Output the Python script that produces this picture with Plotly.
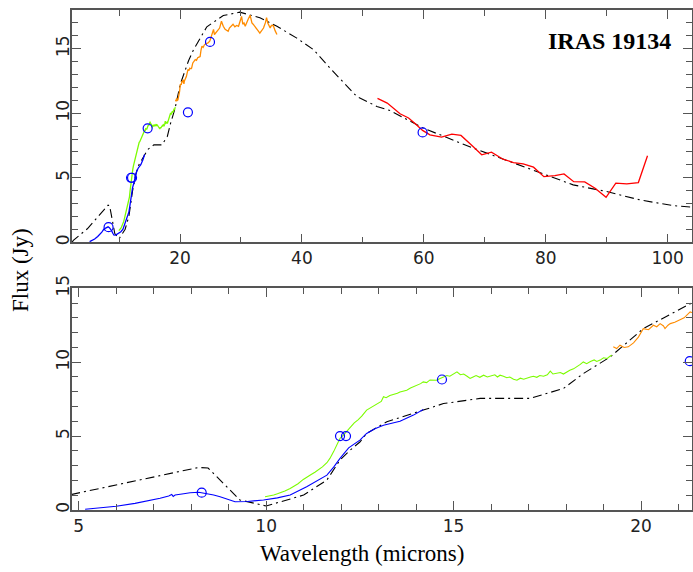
import plotly.graph_objects as go
from plotly.subplots import make_subplots

# ---------------- data ----------------
model_x = [2.3, 2.5, 4.8, 6.5, 8.2, 8.45, 9.3, 10.0, 11.0, 11.62, 11.97, 12.24, 12.5, 12.68,
           13.22, 14.19, 14.73, 15.71, 17.04, 17.93, 18.46, 19.18, 20.06, 21.4, 22.2, 24.4,
           27.1, 29.8, 33.1, 35.9, 39.1, 41.9, 45.0, 49.0, 52.3, 54.5, 59.9, 68.1, 76.3,
           84.5, 90.0, 95.5, 100.9, 104.0]
model_y = [0.0, 0.15, 1.05, 1.95, 2.88, 2.84, 0.68, 0.27, 1.01, 2.03, 3.38, 4.05, 4.6, 5.18,
           5.97, 6.76, 7.2, 7.55, 7.55, 8.22, 9.23, 10.36, 12.27, 14.07, 14.9, 16.7,
           17.57, 17.83, 17.4, 16.74, 15.84, 14.93, 13.3, 11.3, 10.53, 10.2, 8.85, 7.3, 5.87,
           4.45, 3.93, 3.28, 2.84, 2.72]

blue_x = [5.17, 5.5, 6.0, 6.5, 7.0, 7.17, 7.4, 7.48, 7.52, 7.57, 7.8, 7.97, 8.2, 8.41, 8.6,
          8.77, 9.0, 9.17, 9.5, 9.93, 10.3, 10.64, 11.08, 11.3, 11.62, 11.8, 11.97, 12.2,
          12.5, 12.68, 12.9, 13.13, 13.35, 13.57, 13.93, 14.19]
blue_y = [0.05, 0.12, 0.25, 0.45, 0.68, 0.79, 0.95, 1.05, 0.92, 1.01, 1.10, 1.17, 1.20, 1.13, 1.02,
          0.90, 0.68, 0.56, 0.58, 0.68, 0.82, 1.01, 1.58, 1.90, 2.36, 2.90, 3.49, 4.20,
          4.73, 5.18, 5.50, 5.74, 5.90, 6.01, 6.42, 6.80]

green_x = [9.97, 10.1, 10.2, 10.3, 10.4, 10.5, 10.64, 10.75, 10.85, 10.99, 11.1, 11.2, 11.3,
           11.4, 11.5, 11.62, 11.7, 11.8, 11.9, 11.97, 12.06, 12.15, 12.25, 12.35, 12.45,
           12.55, 12.68, 12.8, 12.9, 13.0, 13.07, 13.13, 13.2, 13.3, 13.4, 13.5, 13.57,
           13.65, 13.75, 13.85, 13.95, 14.05, 14.12, 14.19, 14.28, 14.37, 14.46, 14.55,
           14.64, 14.73, 14.82, 14.9, 15.0, 15.09, 15.18, 15.27, 15.36, 15.44, 15.52, 15.6,
           15.7, 15.8, 15.9, 16.0, 16.1, 16.17, 16.24, 16.33, 16.42, 16.5, 16.6, 16.69,
           16.78, 16.87, 16.96, 17.05, 17.13, 17.22, 17.3, 17.4, 17.5, 17.58, 17.65, 17.75,
           17.85, 17.93, 18.02, 18.1, 18.2, 18.3, 18.38, 18.46, 18.55, 18.65, 18.75, 18.82,
           18.91, 19.0, 19.1, 19.17, 19.22]
green_y = [0.90, 0.95, 1.02, 1.10, 1.18, 1.28, 1.46, 1.60, 1.78, 2.07, 2.22, 2.40, 2.55,
           2.72, 2.92, 3.20, 3.49, 3.95, 4.45, 4.85, 5.07, 5.35, 5.65, 5.90, 6.10,
           6.35, 6.76, 6.95, 7.10, 7.25, 7.35, 7.66, 7.60, 7.75, 7.80, 7.90, 7.99,
           8.05, 8.10, 8.25, 8.35, 8.45, 8.55, 8.67, 8.62, 8.80, 8.78, 8.78,
           8.90, 9.00, 9.10, 9.05, 9.20, 9.35, 9.15, 9.20, 9.05, 8.90, 9.00, 9.10,
           8.98, 9.12, 9.00, 9.05, 9.15, 9.00, 9.12, 9.05, 8.95, 9.00, 8.85, 8.78,
           8.92, 8.85, 8.95, 9.00, 9.05, 8.98, 9.10, 9.05, 9.15, 9.40, 9.20, 9.25,
           9.30, 9.20, 9.35, 9.45, 9.55, 9.70, 9.85, 10.02, 9.90, 10.05, 10.15, 10.05,
           10.14, 10.30, 10.25, 10.40, 10.47]

orange_x = [19.26, 19.35, 19.44, 19.55, 19.66, 19.8, 19.93, 20.06, 20.2, 20.33, 20.42, 20.51,
            20.6, 20.64, 20.72, 20.78, 20.9, 21.04, 21.15, 21.31, 21.45, 21.6, 21.8, 21.9,
            22.1, 22.3, 22.5, 22.7, 22.9, 23.1, 23.3, 23.45, 23.6, 23.8, 24.0, 24.3, 24.6,
            24.9, 25.2, 25.4, 25.5, 25.65, 25.8, 26.0, 26.2, 26.5, 26.8, 26.95, 27.1, 27.4,
            27.7, 27.9, 28.1, 28.4, 28.7, 29.0, 29.3, 29.6, 29.85, 30.1, 30.3, 30.5, 30.7,
            30.9, 31.2, 31.5, 31.8, 32.0, 32.3, 32.6, 32.8, 33.1, 33.4, 33.7, 34.0, 34.2,
            34.4, 34.6, 34.8, 35.0, 35.3, 35.6, 35.9]
orange_y = [11.04, 10.92, 11.15, 11.00, 11.04, 11.31, 11.70, 12.27, 12.20, 12.50, 12.40, 12.61,
            12.45, 12.27, 12.50, 12.61, 12.70, 12.84, 13.00, 13.40, 13.30, 13.50, 13.45, 13.50,
            13.90, 14.00, 14.15, 14.10, 14.30, 14.35, 14.40, 14.90, 15.20, 15.10, 15.30, 15.40, 15.45,
            15.60, 15.97, 16.30, 16.50, 16.10, 16.20, 16.30, 16.50, 16.60, 17.13, 16.80, 16.74, 16.50,
            16.40, 16.35, 16.60, 16.74, 16.90, 16.70, 16.80, 16.74, 17.10, 17.50, 16.90, 17.00, 16.74,
            17.00, 17.30, 17.60, 17.00, 16.90, 16.74, 16.50, 16.40, 16.20, 16.40, 16.60, 17.00, 17.40,
            17.00, 16.80, 16.60, 16.80, 16.80, 16.40, 16.10]

red_x = [52.4, 54.0, 56.1, 57.5, 58.6, 59.8, 61.0, 62.9, 64.6, 66.1, 67.9, 69.5, 71.1, 73.0,
         74.7, 76.3, 78.0, 79.7, 81.5, 83.0, 84.6, 86.4, 88.1, 89.9, 91.5, 93.3, 95.2, 96.7]
red_y = [11.15, 10.79, 9.96, 9.63, 9.18, 8.67, 8.33, 8.15, 8.38, 8.28, 7.50, 6.78, 6.99, 6.44,
         6.18, 6.08, 5.82, 5.09, 5.17, 5.30, 4.70, 4.68, 4.19, 3.49, 4.58, 4.53, 4.63, 6.70]

phot_x = [8.28, 11.97, 12.13, 14.69, 21.3, 24.92, 59.8]
phot_y = [1.17, 5.0, 5.0, 8.83, 10.07, 15.53, 8.51]

title_text = "IRAS 19134"
xlabel = "Wavelength (microns)"
ylabel = "Flux (Jy)"

# ---------------- figure ----------------
W, H = 693, 572
PL, PR, PT, PB = 72, 692, 10, 510   # plot frame in window pixels
ml, mr, mt, mb = PL, W - PR, PT, H - PB
fig = make_subplots(rows=2, cols=1)

BLUE = "#0000ff"
GREEN = "#7cfc00"
ORANGE = "#ff8c00"
RED = "#ff0000"
dashdot = "9px,4px,2px,4px"

for row, lw in [(1, 1.3), (2, 1.1)]:
    fig.add_trace(go.Scatter(x=model_x, y=model_y, mode="lines",
                             line=dict(color="black", width=1.1, dash=dashdot)), row=row, col=1)
    fig.add_trace(go.Scatter(x=blue_x, y=blue_y, mode="lines",
                             line=dict(color=BLUE, width=lw)), row=row, col=1)
    fig.add_trace(go.Scatter(x=green_x, y=green_y, mode="lines",
                             line=dict(color=GREEN, width=lw)), row=row, col=1)
    fig.add_trace(go.Scatter(x=orange_x, y=orange_y, mode="lines",
                             line=dict(color=ORANGE, width=lw)), row=row, col=1)
    fig.add_trace(go.Scatter(x=red_x, y=red_y, mode="lines",
                             line=dict(color=RED, width=lw)), row=row, col=1)
    fig.add_trace(go.Scatter(x=phot_x, y=phot_y, mode="markers", cliponaxis=False if row == 2 else True,
                             marker=dict(symbol="circle-open", size=9, color=BLUE,
                                         line=dict(width=1.2, color=BLUE))), row=row, col=1)

pw = PR - PL
ph = PB - PT
def px_x(p):
    return (p - PL) / pw
def px_y(p):
    return (PB - p) / ph

top_dom = [px_y(242.3), 1.0]
bot_dom = [0.0, px_y(288.3)]

tickfont = dict(family="DejaVu Sans", size=17, color="#222")
axcommon = dict(showline=True, linecolor="#555", linewidth=1.5, mirror="ticks",
                ticks="inside", tickcolor="#555", tickwidth=1.2, ticklen=9,
                showgrid=False, zeroline=False, tickfont=tickfont, automargin=False)

fig.update_layout(
    width=W, height=H, margin=dict(l=ml, r=mr, t=mt, b=mb, pad=0, autoexpand=False),
    paper_bgcolor="white", plot_bgcolor="white", showlegend=False,
    xaxis=dict(range=[2.28, 104.0], domain=[0, 1], tickvals=[20, 40, 60, 80, 100],
               minor=dict(ticks="inside", ticklen=6, tickvals=[10, 30, 50, 70, 90], tickcolor="#555"),
               **axcommon),
    yaxis=dict(range=[0, 18], domain=top_dom, tickvals=[0, 5, 10, 15], tickangle=-90,
               ticklabelstandoff=-6,
               minor=dict(ticks="inside", ticklen=6, dtick=1, tickcolor="#555"),
               **axcommon),
    xaxis2=dict(range=[4.82, 21.36], domain=[0, 1], tickvals=[5, 10, 15, 20],
                minor=dict(ticks="inside", ticklen=6, dtick=1, tickcolor="#555"),
                **axcommon),
    yaxis2=dict(range=[0, 15], domain=bot_dom, tickvals=[0, 5, 10, 15], tickangle=-90,
                ticklabelstandoff=-6,
                minor=dict(ticks="inside", ticklen=6, dtick=1, tickcolor="#555"),
                **axcommon),
)

fig.add_annotation(text="<b>" + title_text + "</b>", xref="paper", yref="paper",
                   x=px_x(609), y=px_y(41), xanchor="center", yanchor="middle", showarrow=False,
                   font=dict(family="Liberation Serif", size=24, color="black"))
fig.add_annotation(text=ylabel, xref="paper", yref="paper", textangle=-90,
                   x=px_x(20), y=px_y(270), xanchor="center", yanchor="middle", showarrow=False,
                   font=dict(family="Liberation Serif", size=23, color="black"))
fig.add_annotation(text=xlabel, xref="paper", yref="paper",
                   x=px_x(361.5), y=px_y(553), xanchor="center", yanchor="middle", showarrow=False,
                   font=dict(family="Liberation Serif", size=23, color="black"))

fig.write_html("out.html", config={"displayModeBar": False},
               post_script="document.body.style.margin='0px';document.body.style.overflow='hidden';")
